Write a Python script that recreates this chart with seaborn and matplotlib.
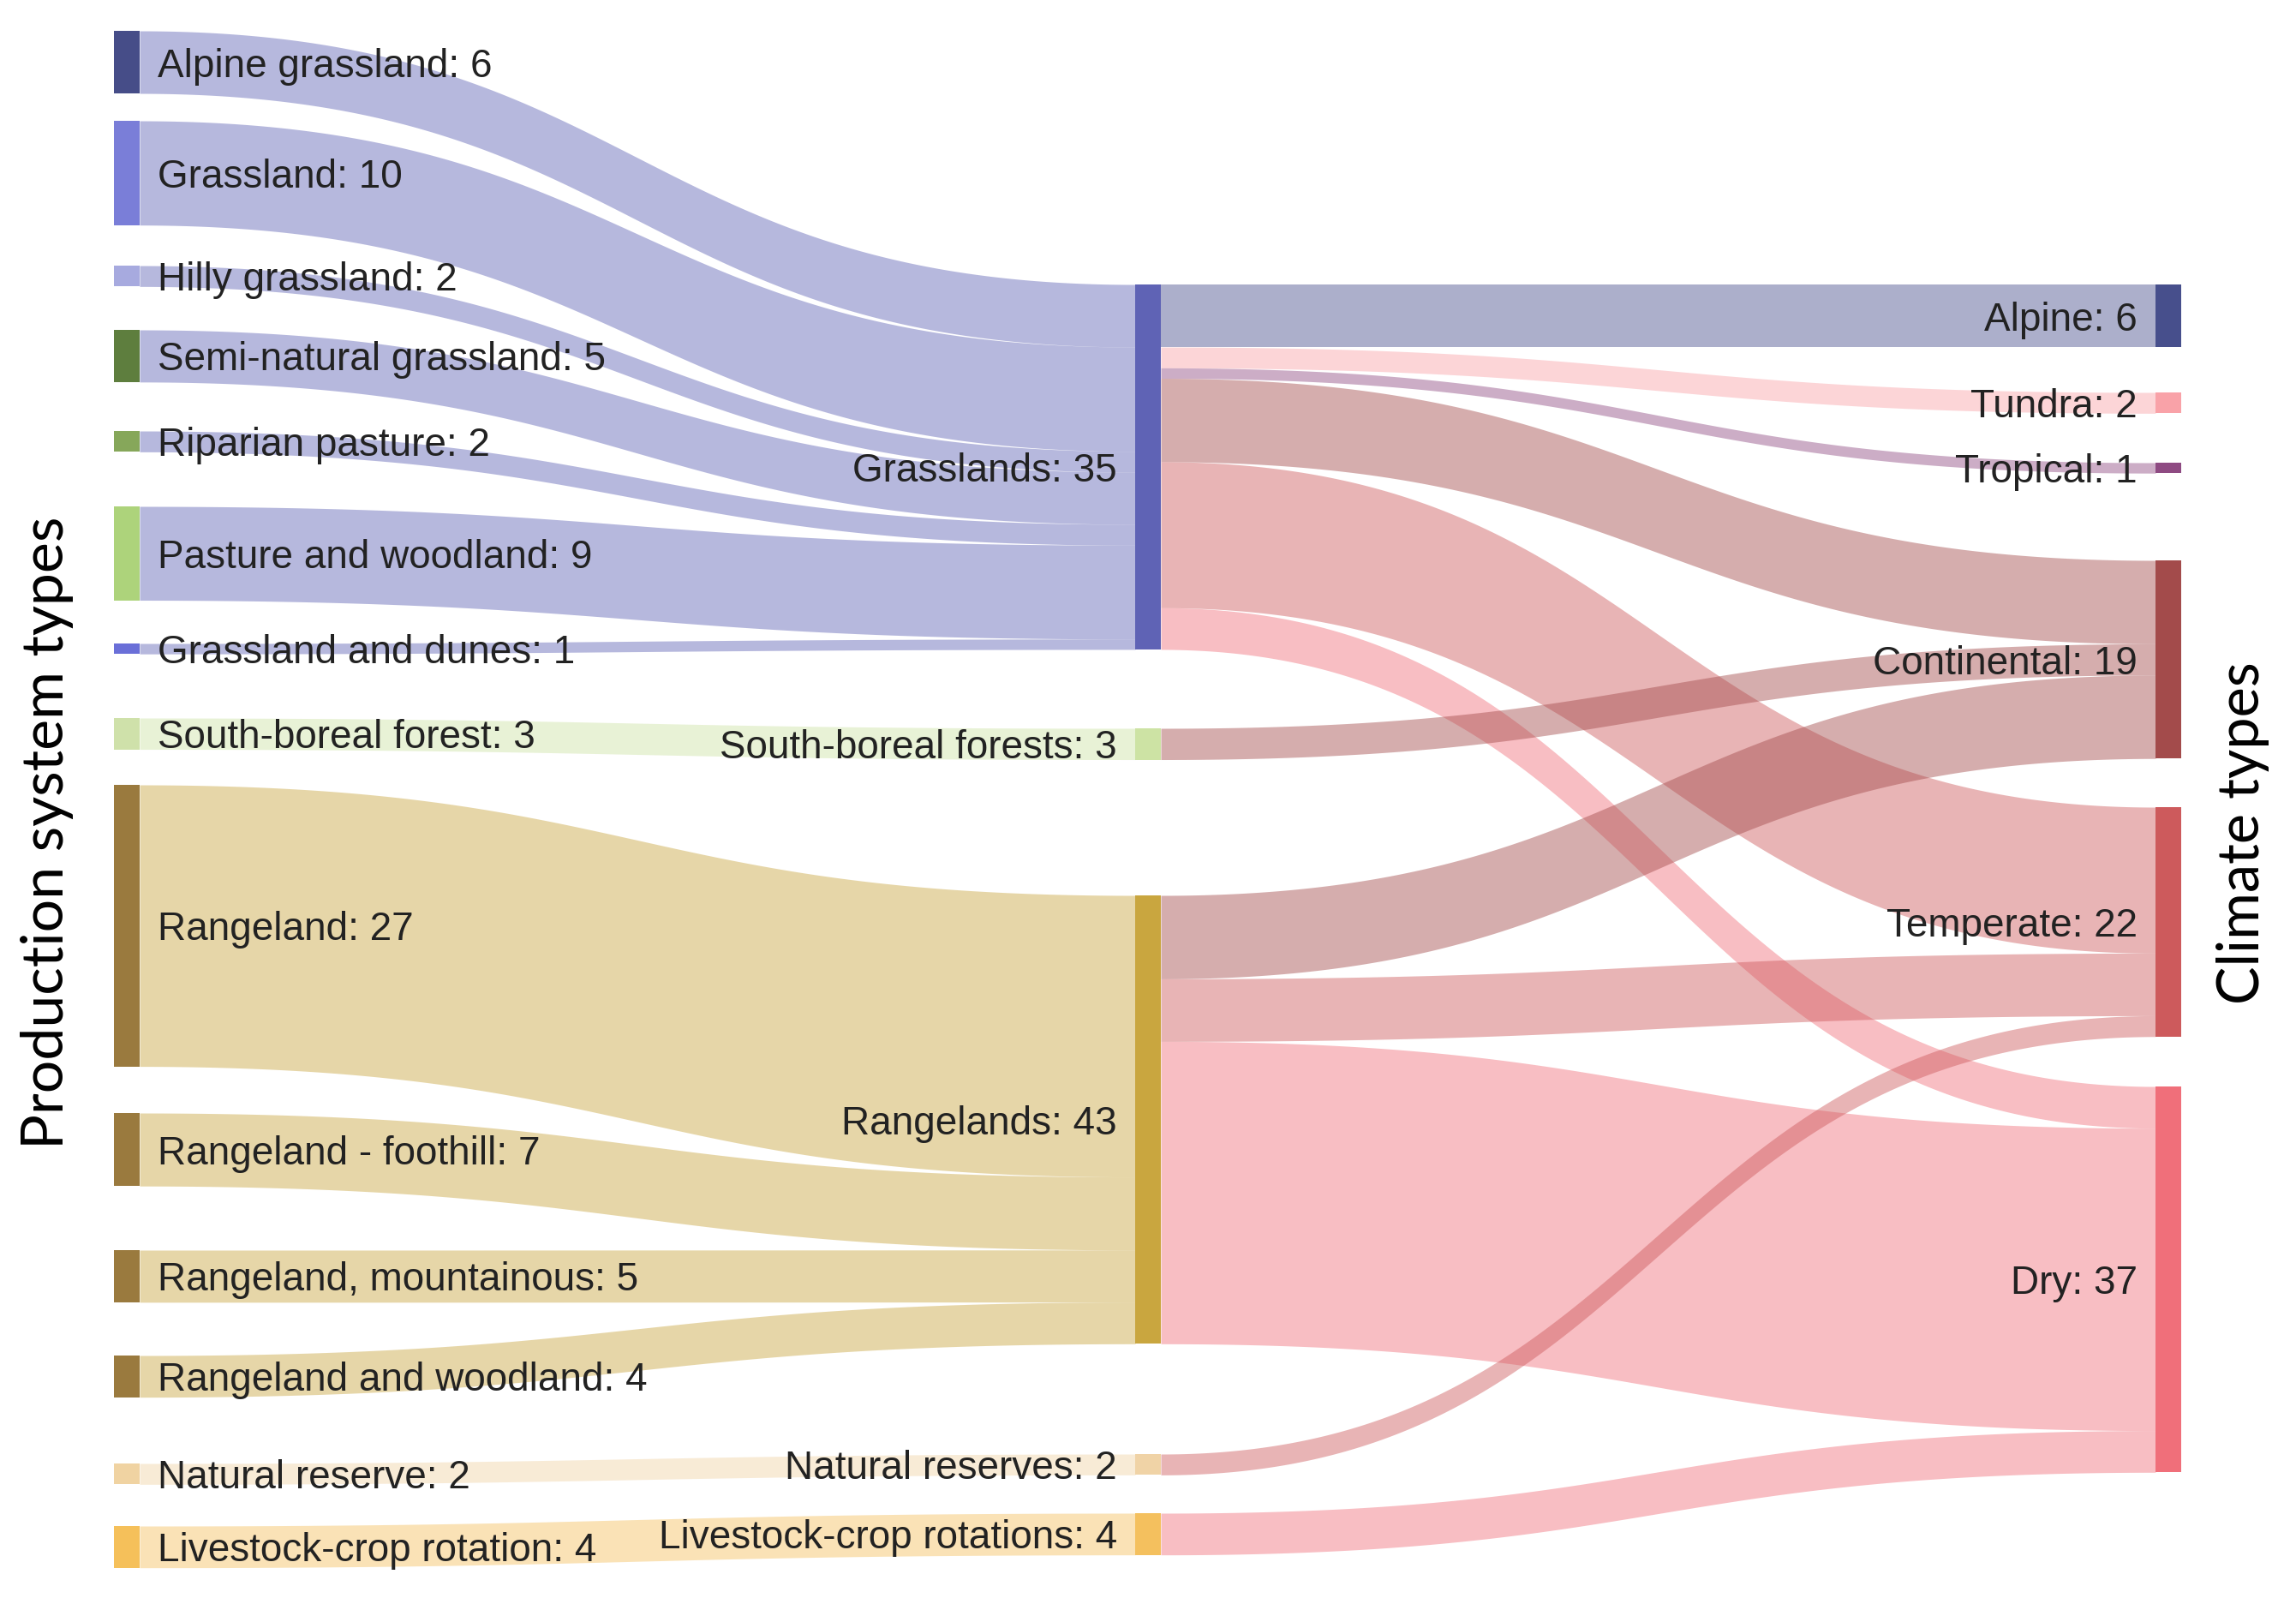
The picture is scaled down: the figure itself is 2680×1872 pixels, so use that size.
import numpy as np
import matplotlib
matplotlib.use("Agg")
import matplotlib.pyplot as plt
import seaborn as sns

# ---- data ----
left_nodes = ["Alpine grassland", "Grassland", "Hilly grassland", "Semi-natural grassland",
              "Riparian pasture", "Pasture and woodland", "Grassland and dunes",
              "South-boreal forest", "Rangeland", "Rangeland - foothill",
              "Rangeland, mountainous", "Rangeland and woodland", "Natural reserve",
              "Livestock-crop rotation"]
mid_nodes = ["Grasslands", "South-boreal forests", "Rangelands", "Natural reserves",
             "Livestock-crop rotations"]
right_nodes = ["Alpine", "Tundra", "Tropical", "Continental", "Temperate", "Dry"]

# production system -> system group
left_target = ["Grasslands"] * 7 + ["South-boreal forests"] + ["Rangelands"] * 4 + \
              ["Natural reserves", "Livestock-crop rotations"]
left_values = [6, 10, 2, 5, 2, 9, 1, 3, 27, 7, 5, 4, 2, 4]

# system group -> climate type
mid_source = ["Grasslands"] * 6 + ["South-boreal forests"] + ["Rangelands"] * 3 + \
             ["Natural reserves", "Livestock-crop rotations"]
mid_target = ["Alpine", "Tundra", "Tropical", "Continental", "Temperate", "Dry",
              "Continental", "Continental", "Temperate", "Dry", "Temperate", "Dry"]
mid_values = [6, 2, 1, 8, 14, 4, 3, 8, 6, 29, 2, 4]

# ---- layout / style (pixels, y from top) ----
W, H = 2680, 1872
unit = 12.17
col_x = {0: 133, 1: 1325, 2: 2516}
node_w = 30
node_top = {
    "Alpine grassland": 36, "Grassland": 141, "Hilly grassland": 310,
    "Semi-natural grassland": 385, "Riparian pasture": 503, "Pasture and woodland": 591,
    "Grassland and dunes": 751, "South-boreal forest": 838, "Rangeland": 916,
    "Rangeland - foothill": 1299, "Rangeland, mountainous": 1459,
    "Rangeland and woodland": 1582, "Natural reserve": 1708, "Livestock-crop rotation": 1781,
    "Grasslands": 332, "South-boreal forests": 850, "Rangelands": 1045,
    "Natural reserves": 1697, "Livestock-crop rotations": 1766,
    "Alpine": 332, "Tundra": 458, "Tropical": 540, "Continental": 654,
    "Temperate": 942, "Dry": 1268,
}
node_color = {
    "Alpine grassland": "#464d88", "Grassland": "#7a7ed8", "Hilly grassland": "#a7aadf",
    "Semi-natural grassland": "#5e7e3e", "Riparian pasture": "#86a75a",
    "Pasture and woodland": "#add37b", "Grassland and dunes": "#6a6fd8",
    "South-boreal forest": "#cfe1aa", "Rangeland": "#9a7a3e",
    "Rangeland - foothill": "#9a7a3e", "Rangeland, mountainous": "#9a7a3e",
    "Rangeland and woodland": "#9a7a3e", "Natural reserve": "#f0d3a2",
    "Livestock-crop rotation": "#f5c05a",
    "Grasslands": "#5f63b5", "South-boreal forests": "#cde3a4", "Rangelands": "#c9a63f",
    "Natural reserves": "#f0d3a6", "Livestock-crop rotations": "#f4c05e",
    "Alpine": "#474f8c", "Tundra": "#f9a2a8", "Tropical": "#8e4a82",
    "Continental": "#a34b4b", "Temperate": "#cd5a5c", "Dry": "#f06f7a",
}
link_alpha = 0.45
label_color = "#222222"

sns.set_theme(style="white")
plt.rcParams["font.family"] = ["Liberation Sans", "DejaVu Sans"]

links = [(s, t, v) for s, t, v in zip(left_nodes, left_target, left_values)] + \
        [(s, t, v) for s, t, v in zip(mid_source, mid_target, mid_values)]
column = {n: 0 for n in left_nodes}
column.update({n: 1 for n in mid_nodes})
column.update({n: 2 for n in right_nodes})

value = {}
for n in left_nodes:
    value[n] = sum(v for s, t, v in links if s == n)
for n in mid_nodes + right_nodes:
    value[n] = sum(v for s, t, v in links if t == n)

# offsets of each link at its source and target
out_off, in_off = {}, {}
for n in column:
    outs = sorted([l for l in links if l[0] == n], key=lambda l: node_top[l[1]])
    y = node_top[n]
    for l in outs:
        out_off[l] = y
        y += l[2] * unit
    ins = sorted([l for l in links if l[1] == n], key=lambda l: node_top[l[0]])
    y = node_top[n]
    for l in ins:
        in_off[l] = y
        y += l[2] * unit

fig = plt.figure(figsize=(W / 100, H / 100), dpi=100)
ax = fig.add_axes([0, 0, 1, 1])
ax.set_xlim(0, W)
ax.set_ylim(H, 0)
ax.axis("off")

t = np.linspace(0, 1, 300)
for l in links:
    s, tg, v = l
    x0 = col_x[column[s]] + node_w
    x1 = col_x[column[tg]]
    xm = (x0 + x1) / 2
    xs = (1 - t) ** 3 * x0 + 3 * (1 - t) ** 2 * t * xm + 3 * (1 - t) * t ** 2 * xm + t ** 3 * x1
    ease = 3 * t ** 2 - 2 * t ** 3
    y0, y1 = out_off[l], in_off[l]
    top = y0 + (y1 - y0) * ease
    ax.fill_between(xs, top, top + v * unit, color=node_color[tg], alpha=link_alpha,
                    lw=0, zorder=1)

for n, c in column.items():
    x = col_x[c]
    y = node_top[n]
    h = value[n] * unit
    ax.add_patch(plt.Rectangle((x, y), node_w, h, color=node_color[n], lw=0, zorder=2))
    label = f"{n}: {value[n]}"
    if c == 0:
        ax.text(x + node_w + 21, y + h / 2, label, ha="left", va="center_baseline",
                fontsize=33, color=label_color, zorder=3)
    else:
        ax.text(x - 21, y + h / 2, label, ha="right", va="center_baseline",
                fontsize=33, color=label_color, zorder=3)

ax.text(55, 972, "Production system types", rotation=90, ha="center", va="center",
        fontsize=49, family=["Lato", "DejaVu Sans"], color="black")
ax.text(2618, 972, "Climate types", rotation=90, ha="center", va="center",
        fontsize=48, family=["Lato", "DejaVu Sans"], color="black")

fig.savefig("out.png", dpi=100, facecolor="white")
